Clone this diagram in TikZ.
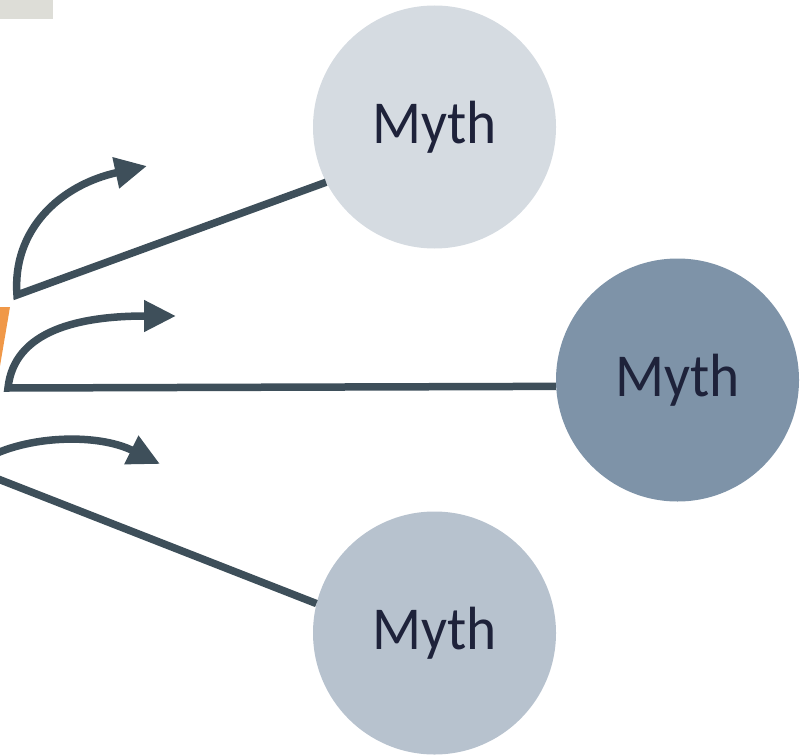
\documentclass[tikz,border=0pt]{standalone}
\usepackage{fontspec}
\setmainfont{Carlito}
\usetikzlibrary{arrows.meta}
\definecolor{lineC}{RGB}{62,79,90}
\definecolor{topC}{RGB}{213,219,225}
\definecolor{midC}{RGB}{126,147,168}
\definecolor{botC}{RGB}{183,194,206}
\definecolor{rectC}{RGB}{221,221,215}
\definecolor{orangeC}{RGB}{240,152,72}
\definecolor{textC}{RGB}{30,34,58}
\tikzset{
  myth/.style={circle, inner sep=0pt, minimum size=243pt, text=textC,
    font=\fontsize{61}{61}\selectfont},
  conn/.style={draw=lineC, line width=7.5pt, line join=miter,
    -{Triangle[length=32pt,width=30pt]}},
}
\begin{document}
\begin{tikzpicture}[x=1pt,y=-1pt]
\useasboundingbox (0,0) rectangle (802,754);
\clip (0,0) rectangle (802,754);
% background fragments
\fill[rectC] (0,0) rectangle (53,19);
\fill[orangeC] (0,307) -- (10,307) -- (0,366) -- cycle;
% circles
\node[myth, fill=topC] (top) at (434.5,127) {\scalebox{0.94}[1]{Myth}};
\node[myth, fill=midC] (mid) at (677.5,380) {\scalebox{0.94}[1]{Myth}};
\node[myth, fill=botC] (bot) at (434.5,633) {\scalebox{0.94}[1]{Myth}};
% junctions and arrow ends
\coordinate (j1) at (17,295);
\coordinate (t1) at (147,166);
\coordinate (j2) at (8,388);
\coordinate (t2) at (176,316);
\coordinate (j3) at (-30,468);
\coordinate (b3) at (-20,462);
\coordinate (t3) at (160,464);
% connectors
\draw[conn] (top.207.6) -- (j1) .. controls (12,230) and (60,185) .. (t1);
\draw[conn] (mid.183.8) -- (j2) .. controls (14,330) and (80,316) .. (t2);
\draw[draw=lineC, line width=7.5pt] (bot.166) -- (j3);
\draw[conn] (b3) .. controls (20,436) and (95,432) .. (t3);
\end{tikzpicture}
\end{document}
